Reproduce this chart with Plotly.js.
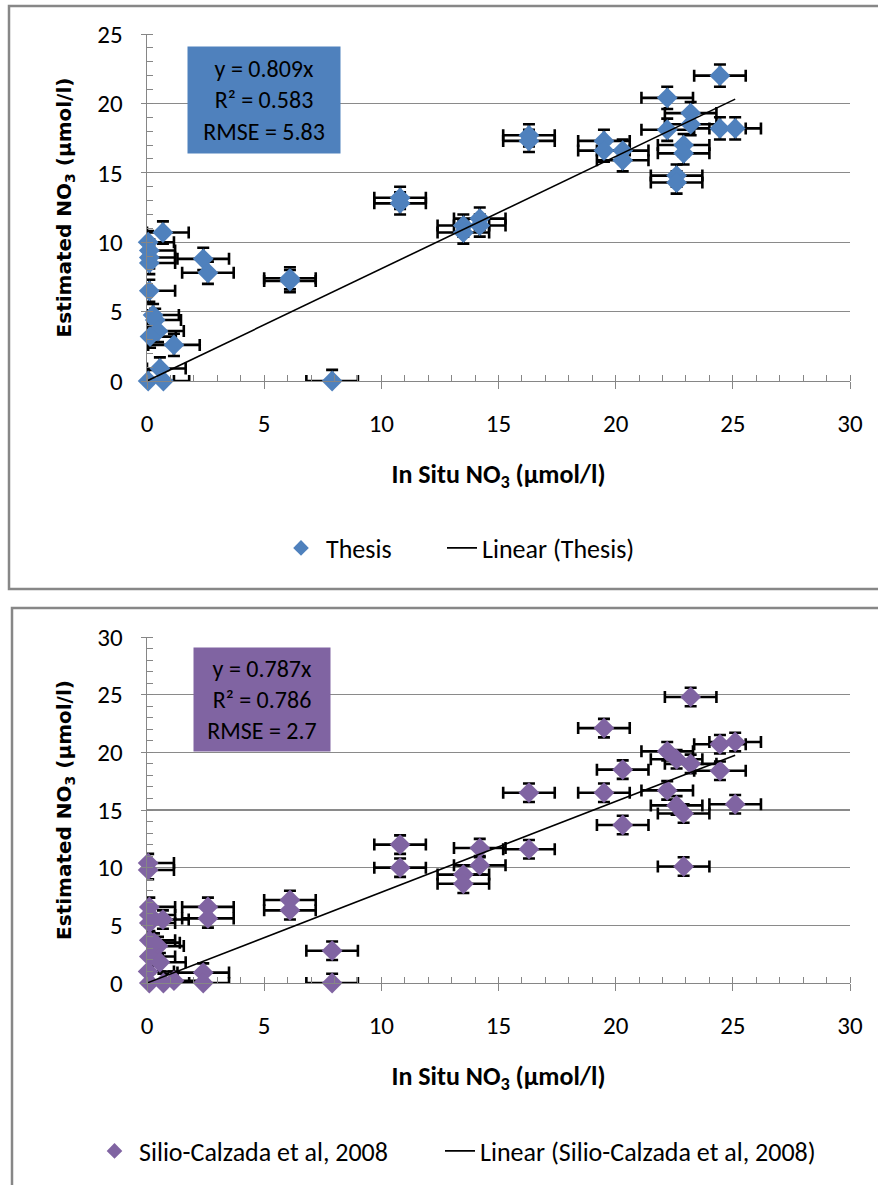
<!DOCTYPE html>
<html>
<head>
<meta charset="utf-8">
<script src="https://cdn.plot.ly/plotly-3.0.1.min.js"></script>
<style>html,body{margin:0;padding:0;background:#fff;}#chart{width:878px;height:1185px;}</style>
</head>
<body>
<div id="chart"></div>
<script>
// ---- Data: Thesis (top panel) ----
var thesisInSitu = [0.05, 0.1, 0.1, 0.1, 0.68, 2.4, 2.6, 6.1, 6.1, 0.1, 0.26, 0.35, 0.47, 0.13, 1.15, 0.55, 0.05, 0.7, 7.9,
  10.8, 10.8, 13.5, 13.5, 14.2, 14.2, 16.3, 16.3, 19.5, 19.5, 20.3, 20.3, 22.2, 22.2, 22.6, 22.6, 22.9, 22.9, 23.2, 23.2, 24.45, 24.45, 25.1];
var thesisEstimated = [10.0, 9.4, 8.9, 8.5, 10.7, 8.8, 7.8, 7.4, 7.2, 6.5, 4.75, 4.4, 3.6, 3.2, 2.6, 0.9, 0, 0, 0,
  13.2, 12.8, 11.2, 10.7, 11.7, 11.2, 17.7, 17.3, 17.3, 16.6, 16.6, 15.9, 20.4, 18.1, 14.8, 14.3, 17.0, 16.4, 19.3, 18.5, 22.0, 18.2, 18.2];

// ---- Data: Silio-Calzada et al, 2008 (bottom panel) ----
var silioInSitu = [23.2, 19.5, 22.2, 24.45, 25.1, 22.6, 23.2, 20.3, 24.45, 19.5, 22.2, 22.6, 22.9, 25.1, 20.3, 22.9,
  16.3, 16.3, 10.8, 10.8, 14.2, 14.2, 13.5, 13.5, 6.1, 6.1, 7.9, 7.9,
  0.05, 0.05, 2.6, 2.6, 0.1, 0.1, 0.68, 0.1, 0.1, 0.47, 0.1, 0.55, 0.05, 1.15, 2.4, 2.4, 0.1, 0.7, 0.3];
var silioEstimated = [24.8, 22.1, 20.1, 20.7, 20.9, 19.4, 19.0, 18.5, 18.4, 16.5, 16.7, 15.4, 14.7, 15.5, 13.7, 10.1,
  16.5, 11.6, 12.0, 10.0, 11.7, 10.2, 9.4, 8.6, 7.2, 6.3, 2.8, 0,
  10.4, 9.8, 6.6, 5.6, 6.6, 5.9, 5.5, 5.2, 3.7, 3.2, 2.3, 1.8, 1.0, 0.2, 0.9, 0, 0, 0, 3.5];

// ---- Fit / stats ----
var thesisSlope = 0.809, silioSlope = 0.787;
var thesisStats = ["y = 0.809x", "R² = 0.583", "RMSE = 5.83"];
var silioStats = ["y = 0.787x", "R² = 0.786", "RMSE = 2.7"];
var xErr = 1.1, yErr = 0.8;

var xTicks = [0, 5, 10, 15, 20, 25, 30];
var yTicksTop = [0, 5, 10, 15, 20, 25];
var yTicksBottom = [0, 5, 10, 15, 20, 25, 30];

var FONT = "Carlito, Lato, 'Liberation Sans', sans-serif";
var W = 878, H = 1185;
function px(x){ return x / W; }
function py(y){ return 1 - y / H; }

function errX(xs){
  return {type:'data', symmetric:false, array: xs.map(function(){return xErr;}),
    arrayminus: xs.map(function(v){return Math.min(v, xErr);}),
    color:'#000', thickness:2.6, width:6};
}
function errY(){ return {type:'constant', value:yErr, color:'#000', thickness:2.6, width:6}; }
function trend(xs, slope){
  var mx = Math.max.apply(null, xs);
  return [[0, mx], [0, slope*mx]];
}

var tT = trend(thesisInSitu, thesisSlope);
var tS = trend(silioInSitu, silioSlope);

var traces = [
  {type:'scatter', mode:'markers', x:thesisInSitu, y:thesisEstimated, name:'Thesis', xaxis:'x', yaxis:'y',
   marker:{symbol:'diamond', size:16, color:'#4F81BD'}, error_x:errX(thesisInSitu), error_y:errY(),
   cliponaxis:false, legend:'legend'},
  {type:'scatter', mode:'lines', x:tT[0], y:tT[1], name:'Linear (Thesis)', xaxis:'x', yaxis:'y',
   line:{color:'#000', width:1.6}, legend:'legend2'},
  {type:'scatter', mode:'markers', x:silioInSitu, y:silioEstimated, name:'Silio-Calzada et al, 2008', xaxis:'x2', yaxis:'y2',
   marker:{symbol:'diamond', size:16, color:'#8064A2'}, error_x:errX(silioInSitu), error_y:errY(),
   cliponaxis:false, legend:'legend3'},
  {type:'scatter', mode:'lines', x:tS[0], y:tS[1], name:'Linear (Silio-Calzada et al, 2008)', xaxis:'x2', yaxis:'y2',
   line:{color:'#000', width:1.6}, legend:'legend4'}
];

function xAxis(domain, anchor){
  return {domain:domain, anchor:anchor, range:[0,30], tickvals:xTicks, ticks:'outside', ticklen:7, tickcolor:'#868686',
    showline:true, linecolor:'#868686', linewidth:1.3, showgrid:false, zeroline:false,
    tickfont:{family:FONT, size:25, color:'#000'}, ticklabelstandoff:13,
    minor:{dtick:1, ticks:'inside', ticklen:6, tickcolor:'#868686', showgrid:false},
    title:{text:'In Situ NO<sub>3</sub> (µmol/l)', font:{family:FONT, size:26, color:'#000', weight:'bold'}, standoff:26}};
}
function yAxis(domain, anchor, range, ticks){
  return {domain:domain, anchor:anchor, range:range, tickvals:ticks, ticks:'outside', ticklen:5, tickcolor:'#868686',
    showline:true, linecolor:'#868686', linewidth:1.3, showgrid:true, gridcolor:'#8a8a8a', gridwidth:1.3, zeroline:false,
    tickfont:{family:FONT, size:25, color:'#000'}, ticklabelstandoff:13,
    minor:{dtick:1, ticks:'inside', ticklen:6, tickcolor:'#868686', showgrid:false},
    title:{text:'Estimated NO<sub>3</sub> (µmol/l)', font:{family:"'DejaVu Sans', sans-serif", size:20, color:'#000', weight:'bold'}, standoff:20}};
}

var legendFont = {family:FONT, size:26, color:'#000'};
function leg(xPix, yPix, iw, sizing){
  return {orientation:'h', x:px(xPix), xanchor:'left', y:py(yPix), yanchor:'middle', bgcolor:'rgba(0,0,0,0)',
    font:legendFont, itemsizing:sizing, itemwidth:iw, borderwidth:0};
}

var layout = {
  width:W, height:H, margin:{l:0, r:0, t:0, b:0}, paper_bgcolor:'#fff', plot_bgcolor:'#fff',
  showlegend:true,
  xaxis: xAxis([px(147), px(850)], 'y'),
  yaxis: yAxis([py(381), py(34)], 'x', [0,25], yTicksTop),
  xaxis2: xAxis([px(147), px(850)], 'y2'),
  yaxis2: yAxis([py(983), py(637)], 'x2', [0,30], yTicksBottom),
  legend: leg(276, 548, 40, 'constant'),
  legend2: leg(442, 548, 30, 'trace'),
  legend3: leg(90, 1151, 39, 'constant'),
  legend4: leg(440, 1151, 30, 'trace'),
  shapes:[
    {type:'rect', xref:'paper', yref:'paper', x0:px(9), x1:px(884), y0:py(589), y1:py(6), line:{color:'#878787', width:2.5}},
    {type:'rect', xref:'paper', yref:'paper', x0:px(12), x1:px(884), y0:py(1192), y1:py(608), line:{color:'#878787', width:2.5}}
  ],
  annotations:[
    {xref:'paper', yref:'paper', x:px(264), y:py(100), xanchor:'center', yanchor:'middle',
     text:thesisStats.join('<br>'), showarrow:false, bgcolor:'#4F81BD', width:144, height:98, borderpad:4,
     font:{family:FONT, size:24, color:'#000'}, align:'center'},
    {xref:'paper', yref:'paper', x:px(262), y:py(699), xanchor:'center', yanchor:'middle',
     text:silioStats.join('<br>'), showarrow:false, bgcolor:'#8064A2', width:128, height:95, borderpad:4,
     font:{family:FONT, size:24, color:'#000'}, align:'center'}
  ]
};

Plotly.newPlot('chart', traces, layout, {displayModeBar:false, staticPlot:true});
</script>
</body>
</html>
